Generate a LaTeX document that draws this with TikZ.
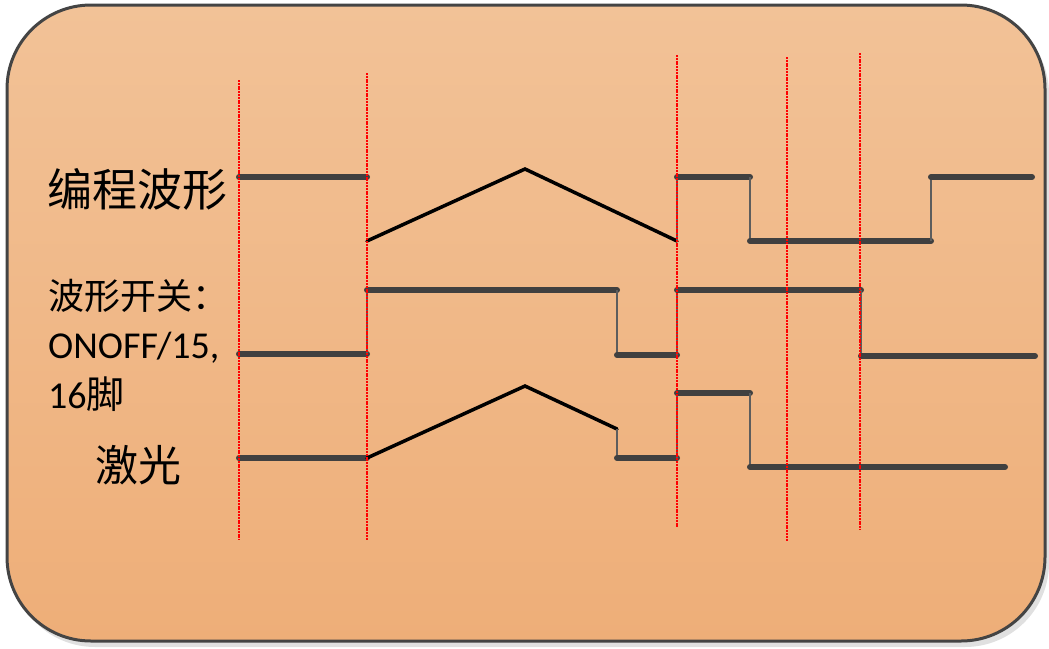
\documentclass[tikz,border=0pt]{standalone}
\usepackage{fontspec}
\setmainfont{Carlito}
\newfontfamily\cjk{Noto Sans CJK SC}
\definecolor{bgtop}{RGB}{242,194,151}
\definecolor{bgbot}{RGB}{238,174,120}
\definecolor{wave}{RGB}{64,64,64}
\definecolor{frame}{RGB}{68,68,68}
\tikzset{
  hi/.style={line width=6pt, color=wave, line cap=round},
  ramp/.style={line width=3.5pt, color=black, line cap=round, line join=miter},
  edge/.style={line width=1.3pt, color=wave!85},
  guide/.style={line width=1.1pt, color=red, dash pattern=on 2pt off 0.8pt},
  lbl/.style={inner sep=0pt, anchor=base west, text=black}
}
\begin{document}
\begin{tikzpicture}[x=1pt,y=-1pt]
\useasboundingbox (0,0) rectangle (1049,648);
% shadow and panel
\fill[black!12, rounded corners=84pt] (11,10) rectangle (1049,647);
\shade[top color=bgtop, bottom color=bgbot, rounded corners=84pt] (7,5) rectangle (1045,641);
\draw[frame, line width=3pt, rounded corners=84pt] (7,5) rectangle (1045,641);

% labels
\node[lbl, font=\cjk\fontsize{45}{45}\selectfont] (l1) at (47,206) {编程波形};
\node[lbl, font=\cjk\fontsize{36}{36}\selectfont] (l2) at (48,309) {波形开关：};
\node[lbl, font=\fontsize{38}{38}\selectfont] (l3) at (48,358) {ONOFF/15,};
\node[lbl, font=\fontsize{38}{38}\selectfont] (l4) at (48,408) {16{\cjk 脚}};
\node[lbl, font=\cjk\fontsize{43}{43}\selectfont] (l5) at (95,481) {激光};

% waveform 1
\draw[hi] (239,177) -- (367,177);
\draw[ramp] (367,241) -- (525,169) -- (677,241);
\draw[edge] (677,241) -- (677,177);
\draw[hi] (677,177) -- (750,177);
\draw[edge] (750,177) -- (750,241);
\draw[hi] (750,241) -- (931,241);
\draw[edge] (931,241) -- (931,177);
\draw[hi] (931,177) -- (1032,177);

% waveform 2
\draw[hi] (239,354) -- (367,354);
\draw[edge] (367,354) -- (367,290);
\draw[hi] (367,290) -- (617,290);
\draw[edge] (617,290) -- (617,355);
\draw[hi] (617,355) -- (677,355);
\draw[edge] (677,355) -- (677,290);
\draw[hi] (677,290) -- (861,290);
\draw[edge] (861,290) -- (861,356);
\draw[hi] (861,356) -- (1035,356);

% waveform 3
\draw[hi] (239,458) -- (367,458);
\draw[ramp] (367,458) -- (525,386) -- (617,429);
\draw[edge] (617,429) -- (617,458);
\draw[hi] (617,458) -- (677,458);
\draw[edge] (677,458) -- (677,393);
\draw[hi] (677,393) -- (750,393);
\draw[edge] (750,393) -- (750,467);
\draw[hi] (750,467) -- (1005,467);

% red guide lines
\draw[guide] (239,80) -- (239,540);
\draw[guide] (367,73) -- (367,540);
\draw[guide] (677,55) -- (677,527);
\draw[guide] (787,57) -- (787,541);
\draw[guide] (860,53) -- (860,530);
\end{tikzpicture}
\end{document}
